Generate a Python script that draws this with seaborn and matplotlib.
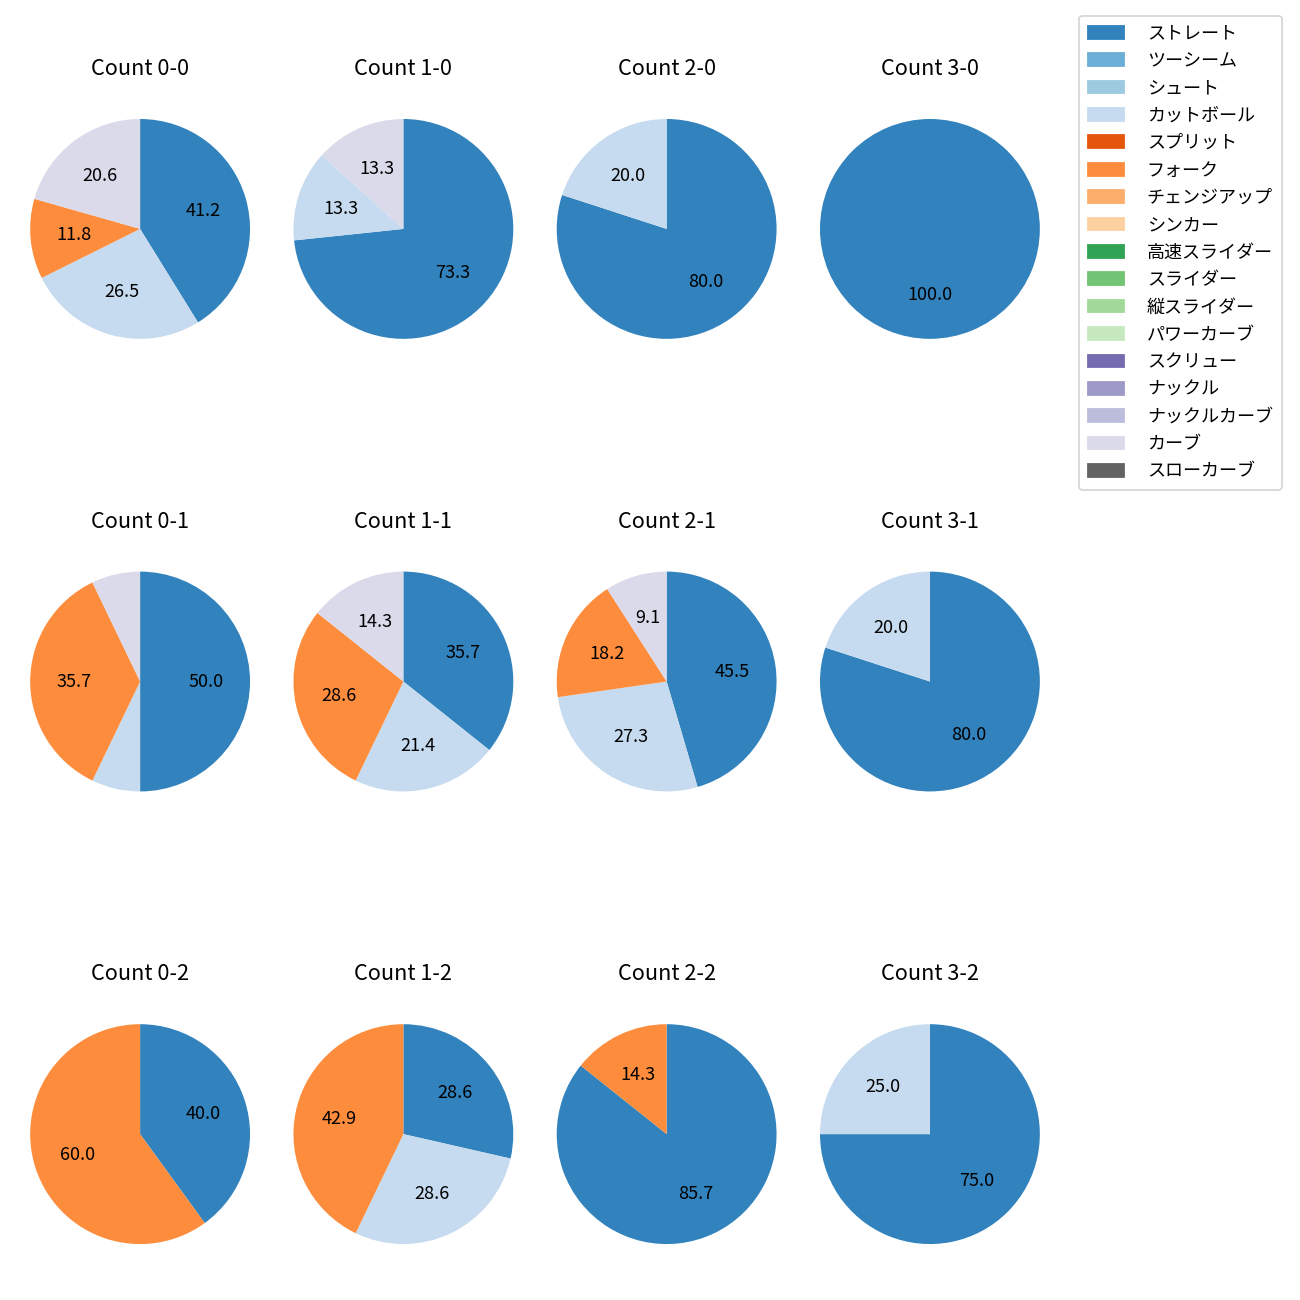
import matplotlib
matplotlib.use("Agg")
import matplotlib.pyplot as plt
import matplotlib.patches as mpatches
import seaborn as sns

plt.rcParams['font.family'] = ['Noto Sans CJK JP', 'DejaVu Sans']

pitch_types = ['ストレート', 'ツーシーム', 'シュート', 'カットボール', 'スプリット', 'フォーク',
               'チェンジアップ', 'シンカー', '高速スライダー', 'スライダー', '縦スライダー',
               'パワーカーブ', 'スクリュー', 'ナックル', 'ナックルカーブ', 'カーブ', 'スローカーブ']
palette = sns.color_palette('tab20c', 20)
colors = palette[:17]

counts = ['0-0', '1-0', '2-0', '3-0',
          '0-1', '1-1', '2-1', '3-1',
          '0-2', '1-2', '2-2', '3-2']

# pitch counts per ball-strike count: ストレート, カットボール, フォーク, カーブ
straight = [14, 11, 4, 3, 7, 5, 5, 4, 2, 2, 6, 3]
cutter = [9, 2, 1, 0, 1, 3, 3, 1, 0, 2, 0, 1]
fork = [4, 0, 0, 0, 5, 4, 2, 0, 3, 3, 1, 0]
curve = [7, 2, 0, 0, 1, 2, 1, 0, 0, 0, 0, 0]

fig, axes = plt.subplots(3, 4, figsize=(10, 10))
fig.subplots_adjust(left=0.0019, right=0.8212, top=0.9296, bottom=0.0219,
                    wspace=-0.0436, hspace=0.647)

names = ['ストレート', 'カットボール', 'フォーク', 'カーブ']
for i, ax in enumerate(axes.flat):
    vals = [straight[i], cutter[i], fork[i], curve[i]]
    data = [(n, v) for n, v in zip(names, vals) if v > 0]
    ax.pie([v for _, v in data],
           colors=[colors[pitch_types.index(n)] for n, _ in data],
           startangle=90, counterclock=False,
           wedgeprops={'linewidth': 0},
           autopct=lambda p: f'{p:.1f}' if p >= 8 else '')
    ax.set_title(f'Count {counts[i]}', fontsize=12, pad=9)

handles = [mpatches.Patch(color=c, label=l) for c, l in zip(colors, pitch_types)]
fig.legend(handles=handles, loc='upper right', bbox_to_anchor=(0.993, 0.995),
           fontsize=10, labelspacing=0.52, handletextpad=1.25, borderpad=0.5)

plt.savefig('out.png', dpi=130)
